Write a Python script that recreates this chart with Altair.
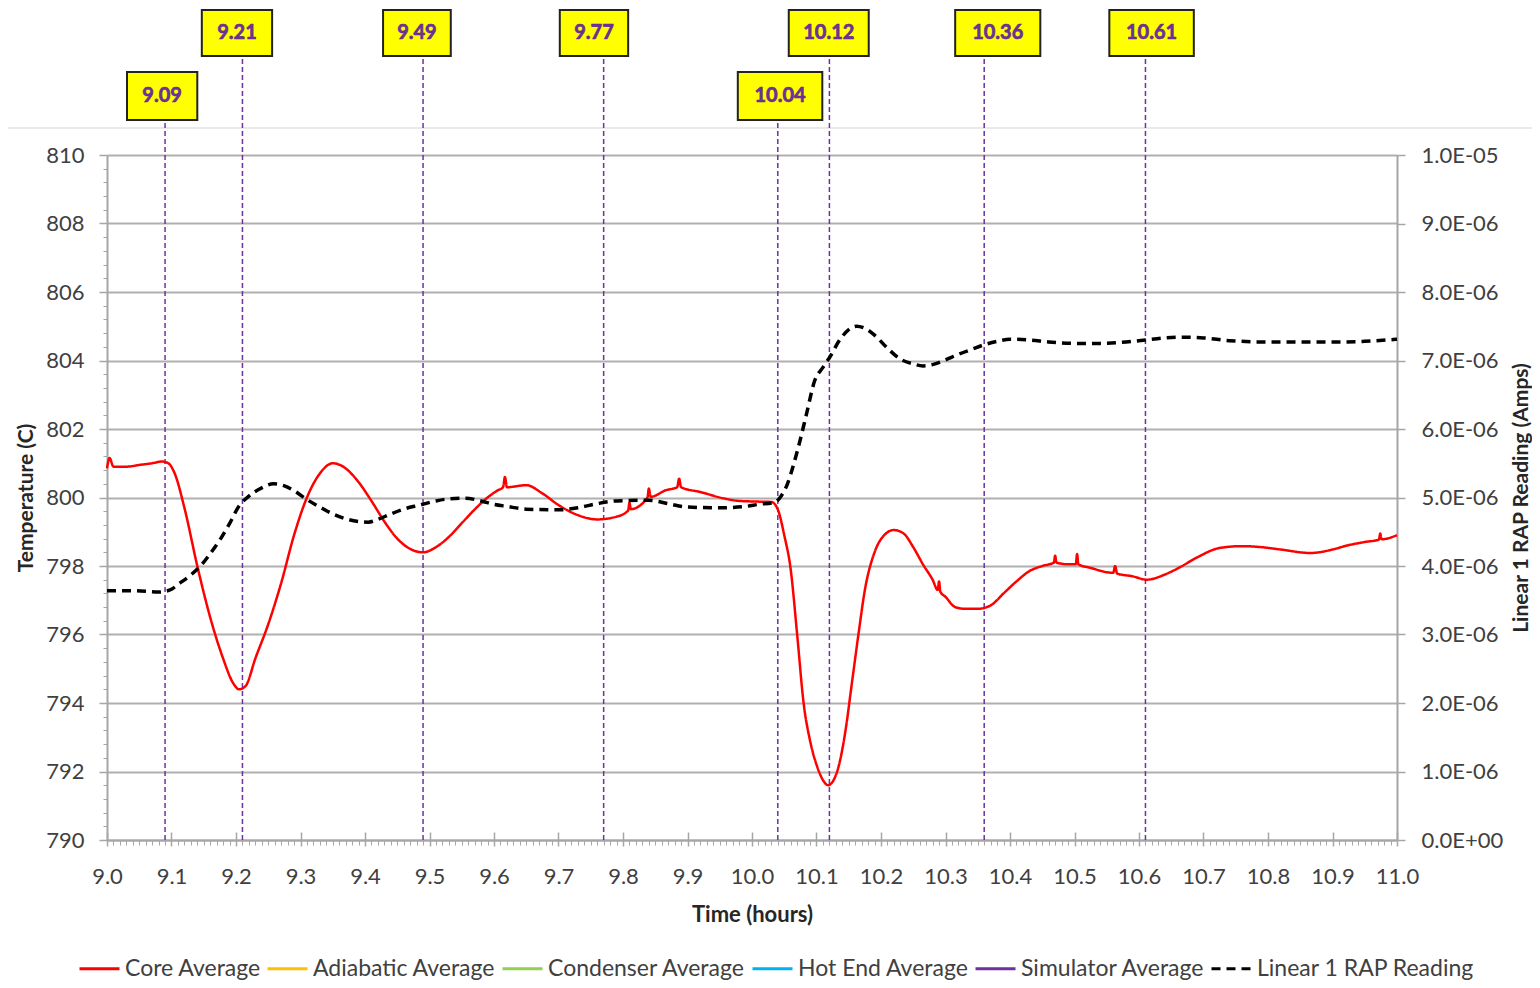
import altair as alt
import pandas as pd

# ---------------- data ----------------
core_time = [9.000, 9.004, 9.010, 9.030, 9.050, 9.070, 9.085, 9.095, 9.105, 9.120, 9.140,
             9.160, 9.180, 9.195, 9.205, 9.215, 9.230, 9.250, 9.270, 9.290, 9.310, 9.330,
             9.350, 9.370, 9.390, 9.410, 9.430, 9.450, 9.470, 9.490, 9.510, 9.530, 9.550,
             9.570, 9.590, 9.605, 9.614, 9.617, 9.620, 9.650, 9.675, 9.700, 9.728, 9.760,
             9.790, 9.808, 9.810, 9.812, 9.838, 9.840, 9.843, 9.866, 9.884, 9.887, 9.890,
             9.920, 9.957, 9.980, 10.010, 10.030, 10.040, 10.050, 10.060, 10.070, 10.080,
             10.090, 10.100, 10.110, 10.118, 10.125, 10.135, 10.145, 10.155, 10.165, 10.175,
             10.190, 10.205, 10.220, 10.235, 10.250, 10.265, 10.280, 10.288, 10.290, 10.292,
             10.300, 10.315, 10.330, 10.350, 10.370, 10.390, 10.410, 10.430, 10.450, 10.468,
             10.470, 10.472, 10.490, 10.502, 10.504, 10.506, 10.524, 10.560, 10.563, 10.566,
             10.590, 10.612, 10.640, 10.664, 10.690, 10.726, 10.760, 10.790, 10.820, 10.866,
             10.900, 10.923, 10.950, 10.972, 10.974, 10.976, 11.000]
core_temp = [800.85, 801.15, 800.90, 800.90, 800.95, 801.00, 801.05, 801.00, 800.70, 799.70, 798.00,
             796.50, 795.30, 794.60, 794.40, 794.50, 795.30, 796.30, 797.50, 798.90, 800.00, 800.70,
             801.00, 800.85, 800.45, 799.90, 799.30, 798.80, 798.50, 798.40, 798.55, 798.85, 799.25,
             799.65, 800.00, 800.20, 800.30, 800.60, 800.30, 800.36, 800.12, 799.78, 799.50, 799.36,
             799.44, 799.62, 799.85, 799.66, 800.00, 800.26, 800.02, 800.21, 800.30, 800.55, 800.30,
             800.16, 799.97, 799.90, 799.88, 799.87, 799.65, 798.90, 797.90, 796.00, 794.00,
             792.90, 792.20, 791.75, 791.60, 791.70, 792.20, 793.20, 794.60, 796.00, 797.30,
             798.40, 798.90, 799.05, 798.95, 798.55, 798.05, 797.60, 797.30, 797.55, 797.25,
             797.10, 796.80, 796.75, 796.75, 796.85, 797.20, 797.55, 797.85, 798.00, 798.10,
             798.30, 798.10, 798.05, 798.05, 798.35, 798.05, 797.95, 797.80, 798.00, 797.78,
             797.70, 797.60, 797.75, 797.97, 798.25, 798.53, 798.58, 798.55, 798.48, 798.38,
             798.48, 798.60, 798.70, 798.77, 798.95, 798.78, 798.90]

rap_time = [9.000, 9.040, 9.080, 9.090, 9.100, 9.110, 9.130, 9.145, 9.160, 9.175, 9.190,
            9.205, 9.220, 9.240, 9.258, 9.275, 9.290, 9.310, 9.330, 9.350, 9.370, 9.390,
            9.405, 9.420, 9.440, 9.460, 9.485, 9.510, 9.530, 9.555, 9.580, 9.600, 9.620,
            9.650, 9.700, 9.730, 9.760, 9.790, 9.840, 9.870, 9.900, 9.950, 9.990, 10.010,
            10.035, 10.045, 10.055, 10.065, 10.075, 10.085, 10.097, 10.110, 10.120, 10.136,
            10.150, 10.162, 10.175, 10.190, 10.210, 10.230, 10.250, 10.265, 10.280, 10.300,
            10.320, 10.340, 10.360, 10.380, 10.400, 10.430, 10.460, 10.500, 10.540, 10.580,
            10.610, 10.640, 10.670, 10.700, 10.740, 10.800, 10.850, 10.900, 10.950, 11.000]
rap_amps = [3.64e-6, 3.64e-6, 3.62e-6, 3.63e-6, 3.66e-6, 3.73e-6, 3.87e-6, 4.00e-6, 4.18e-6, 4.38e-6, 4.62e-6,
            4.88e-6, 5.02e-6, 5.14e-6, 5.20e-6, 5.17e-6, 5.10e-6, 4.97e-6, 4.86e-6, 4.76e-6, 4.69e-6, 4.65e-6,
            4.64e-6, 4.68e-6, 4.76e-6, 4.83e-6, 4.89e-6, 4.95e-6, 4.98e-6, 4.99e-6, 4.95e-6, 4.90e-6, 4.87e-6,
            4.83e-6, 4.82e-6, 4.85e-6, 4.91e-6, 4.95e-6, 4.96e-6, 4.91e-6, 4.86e-6, 4.85e-6, 4.87e-6, 4.90e-6,
            4.93e-6, 5.02e-6, 5.20e-6, 5.50e-6, 5.85e-6, 6.24e-6, 6.70e-6, 6.90e-6, 7.04e-6, 7.30e-6,
            7.45e-6, 7.50e-6, 7.47e-6, 7.37e-6, 7.18e-6, 7.02e-6, 6.95e-6, 6.92e-6, 6.94e-6, 7.01e-6,
            7.09e-6, 7.16e-6, 7.23e-6, 7.28e-6, 7.31e-6, 7.30e-6, 7.27e-6, 7.25e-6, 7.25e-6, 7.27e-6,
            7.30e-6, 7.33e-6, 7.34e-6, 7.33e-6, 7.29e-6, 7.27e-6, 7.27e-6, 7.27e-6, 7.28e-6, 7.31e-6]

series_names = ["Core Average", "Adiabatic Average", "Condenser Average",
                "Hot End Average", "Simulator Average", "Linear 1 RAP Reading"]
series_colors = ["#FF0000", "#FFC000", "#92D050", "#00B0F0", "#7030A0", "#000000"]
series_dashes = [[1, 0], [1, 0], [1, 0], [1, 0], [1, 0], [9, 6]]

# event markers (time of each vertical line and its label)
marker_times = [9.09, 9.21, 9.49, 9.77, 10.04, 10.12, 10.36, 10.61]
marker_labels = ["9.09", "9.21", "9.49", "9.77", "10.04", "10.12", "10.36", "10.61"]
marker_row = ["lower", "upper", "upper", "upper", "lower", "upper", "upper", "upper"]
box_left = [9.031, 9.147, 9.428, 9.702, 9.978, 10.057, 10.315, 10.554]
box_right = [9.140, 9.256, 9.533, 9.808, 10.109, 10.181, 10.447, 10.685]
# label-box levels, expressed in temperature units above the 810 top of the axis
row_bottom = {"upper": 812.89, "lower": 811.02}
row_top = {"upper": 814.23, "lower": 812.42}
separator_level = 810.79
separator_extent = [8.834, 11.222]

# ---------------- tables ----------------
core_df = pd.DataFrame({"time": core_time, "temp": core_temp, "series": "Core Average"})
rap_df = pd.DataFrame({"time": rap_time, "amps": rap_amps, "series": "Linear 1 RAP Reading"})
mk_df = pd.DataFrame({
    "time": marker_times,
    "label": marker_labels,
    "left": box_left,
    "right": box_right,
    "bottom": [row_bottom[r] for r in marker_row],
    "top": [row_top[r] for r in marker_row],
})
mk_df["base"] = 790
mk_df["center"] = (mk_df["left"] + mk_df["right"]) / 2
mk_df["mid"] = (mk_df["bottom"] + mk_df["top"]) / 2
sep_df = pd.DataFrame({"x1": [separator_extent[0]], "x2": [separator_extent[1]], "y": [separator_level]})

W, H = 1290, 685
FONT = "Lato"
GRAY = "#a6a6a6"
LABEL = "#404040"

xs = alt.Scale(domain=[9, 11], nice=False, zero=False)
ts = alt.Scale(domain=[790, 810], nice=False, zero=False)
amp_scale = alt.Scale(domain=[0, 1e-5], nice=False, zero=False)

major_x = [round(9 + i * 0.1, 1) for i in range(21)]
minor_x = [round(9 + i * 0.01, 2) for i in range(201)]
major_t = [790 + 2 * i for i in range(11)]
minor_t = [round(790 + 0.4 * i, 1) for i in range(51)]
major_a = [i * 1e-6 for i in range(11)]

legend = alt.Legend(
    title=None, orient="none", legendX=-29, legendY=792, direction="horizontal",
    columns=6, symbolType="stroke", symbolSize=1600, symbolStrokeWidth=3,
    labelFont=FONT, labelFontSize=23, labelColor=LABEL, labelOffset=4,
    columnPadding=0, labelLimit=400,
)
color_scale = alt.Scale(domain=series_names, range=series_colors)
dash_scale = alt.Scale(domain=series_names, range=series_dashes)

no_x = alt.X("time:Q", scale=xs, axis=None)

separator = alt.Chart(sep_df).mark_rule(color="#e3e3e3", strokeWidth=1.5, clip=False).encode(
    x=alt.X("x1:Q", scale=xs, axis=None), x2="x2:Q",
    y=alt.Y("y:Q", scale=ts, axis=None),
)

rules = alt.Chart(mk_df).mark_rule(color="#7030A0", strokeWidth=1.5, strokeDash=[5, 3], clip=False).encode(
    x=no_x,
    y=alt.Y("base:Q", scale=ts, axis=None),
    y2="bottom:Q",
)

boxes = alt.Chart(mk_df).mark_rect(fill="#FFFF00", stroke="#222222", strokeWidth=2, clip=False).encode(
    x=alt.X("left:Q", scale=xs, axis=None), x2="right:Q",
    y=alt.Y("bottom:Q", scale=ts, axis=None), y2="top:Q",
)

box_text = alt.Chart(mk_df).mark_text(
    font=FONT, fontSize=20, fontWeight="bold", color="#7030A0",
    stroke="#5b2a86", strokeWidth=0.6, align="center", baseline="middle", clip=False,
).encode(
    x=alt.X("center:Q", scale=xs, axis=None),
    y=alt.Y("mid:Q", scale=ts, axis=None),
    text="label:N",
)

core = alt.Chart(core_df).mark_line(strokeWidth=2.5, interpolate="monotone").encode(
    x=alt.X("time:Q", scale=xs, axis=alt.Axis(
        orient="bottom", values=major_x, format=".1f", grid=False,
        labelFont=FONT, labelFontSize=22, labelColor=LABEL, labelPadding=20,
        labelFlush=False, labelOverlap=False,
        tickSize=6, tickColor=GRAY, tickWidth=1.5,
        domainColor=GRAY, domainWidth=2,
        title="Time (hours)", titleFont=FONT, titleFontSize=22, titleFontWeight="bold",
        titleColor="#262626", titlePadding=17,
    )),
    y=alt.Y("temp:Q", scale=ts, axis=alt.Axis(
        orient="left", values=major_t, format="d", grid=True,
        gridColor="#b0b0b0", gridWidth=2,
        labelFont=FONT, labelFontSize=22, labelColor=LABEL, labelPadding=15,
        tickSize=8, tickColor=GRAY, tickWidth=1.5,
        domainColor=GRAY, domainWidth=2,
        title="Temperature (C)", titleFont=FONT, titleFontSize=21, titleFontWeight="bold",
        titleColor="#262626", titlePadding=9,
    )),
    color=alt.Color("series:N", scale=color_scale, legend=legend),
    strokeDash=alt.StrokeDash("series:N", scale=dash_scale, legend=legend),
)

rap = alt.Chart(rap_df).mark_line(strokeWidth=3.5, interpolate="monotone").encode(
    x=no_x,
    y=alt.Y("amps:Q", scale=amp_scale, axis=alt.Axis(
        orient="right", values=major_a, grid=False,
        labelExpr="datum.value == 0 ? '0.0E+00' : (datum.value > 9.5e-6 ? '1.0E-05' : format(datum.value * 1e6, '.1f') + 'E-06')",
        labelFont=FONT, labelFontSize=22, labelColor=LABEL, labelPadding=16,
        tickSize=8, tickColor=GRAY, tickWidth=1.5,
        domainColor=GRAY, domainWidth=2,
        title="Linear 1 RAP Reading (Amps)", titleFont=FONT, titleFontSize=21,
        titleFontWeight="bold", titleColor="#262626", titlePadding=8,
        titleAngle=270, titleBaseline="top",
    )),
    color=alt.Color("series:N", scale=color_scale, legend=legend),
    strokeDash=alt.StrokeDash("series:N", scale=dash_scale, legend=legend),
)

minor = alt.Chart(core_df).mark_point(opacity=0).encode(
    x=alt.X("time:Q", scale=xs, axis=alt.Axis(
        orient="bottom", values=minor_x, labels=False, domain=False, grid=False,
        tickSize=5, tickColor=GRAY, tickWidth=1, title=None,
    )),
    y=alt.Y("temp:Q", scale=ts, axis=alt.Axis(
        orient="left", values=minor_t, labels=False, domain=False, grid=False,
        tickSize=4, tickColor=GRAY, tickWidth=1, title=None,
    )),
)

inner = alt.Chart(core_df).mark_point(opacity=0).encode(
    x=alt.X("time:Q", scale=xs, axis=alt.Axis(
        orient="bottom", offset=-8, values=major_x, labels=False, domain=False, grid=False,
        tickSize=8, tickColor=GRAY, tickWidth=1.5, title=None,
    )),
    y=alt.Y("temp:Q", scale=ts, axis=None),
)

chart = alt.layer(
    separator, minor, inner, rules, core, rap, boxes, box_text
).resolve_scale(
    x="independent", y="independent", color="shared", strokeDash="shared"
).properties(
    width=W, height=H,
    autosize=alt.AutoSizeParams(type="none"),
    padding={"left": 99, "top": 147, "right": 135, "bottom": 143},
    background="white",
).configure_view(stroke=None)

chart.save("out.html", embed_options={"renderer": "svg", "actions": False})
